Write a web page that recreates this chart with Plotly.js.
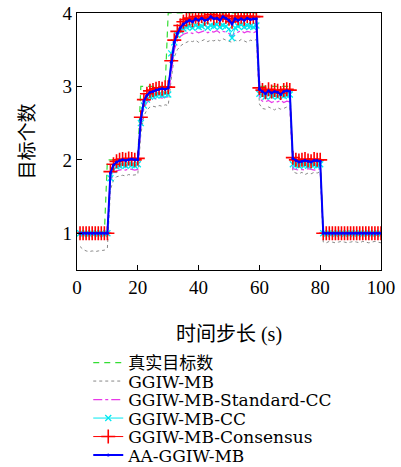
<!DOCTYPE html>
<html><head><meta charset="utf-8">
<script src="https://cdn.plot.ly/plotly-3.0.1.min.js"></script>
<style>html,body{margin:0;padding:0;background:#fff}</style>
</head><body>
<div id="chart" style="width:401px;height:467px"></div>
<script>
// time steps 1..100
const timeSteps = Array.from({length: 100}, (_, i) => i + 1);

const seriesNames = ["真实目标数", "GGIW-MB", "GGIW-MB-Standard-CC", "GGIW-MB-CC", "GGIW-MB-Consensus", "AA-GGIW-MB"];

const truthCount = [
  1,1,1,1,1,1,1,1,1,
  2,2,2,2,2,2,2,2,2,2,2,
  3,3,3,3,3,3,3,3,3,
  4,4,4,4,4,4,4,4,4,4,4,4,4,4,4,4,4,4,4,4,4,4,4,4,4,4,4,4,4,4,
  3,3,3,3,3,3,3,3,3,3,3,
  2,2,2,2,2,2,2,2,2,2,
  1,1,1,1,1,1,1,1,1,1,1,1,1,1,1,1,1,1,1,1
];

const ggiwMB = [
  0.82,0.78,0.76,0.75,0.76,0.75,0.76,0.76,0.77,0.80,
  1.60,1.72,1.77,1.78,1.79,1.78,1.80,1.79,1.80,1.80,
  2.35,2.60,2.68,2.72,2.73,2.72,2.74,2.73,2.75,2.74,
  3.10,3.40,3.50,3.55,3.58,3.60,3.62,3.61,3.63,3.60,3.62,3.64,3.61,3.63,3.62,3.64,3.62,3.65,3.63,3.62,
  3.60,3.63,3.61,3.64,3.62,3.60,3.63,3.62,3.64,
  2.76,2.70,2.69,2.72,2.70,2.68,2.71,2.69,2.70,2.72,2.71,
  1.84,1.82,1.81,1.83,1.80,1.82,1.81,1.83,1.82,1.84,
  0.88,0.87,0.89,0.88,0.87,0.88,0.89,0.88,0.87,0.88,0.89,0.88,0.87,0.89,0.88,0.87,0.88,0.89,0.88,0.87
];

const standardCC = [
  0.98,0.97,0.97,0.98,0.97,0.97,0.98,0.97,0.97,0.98,
  1.70,1.82,1.85,1.86,1.87,1.86,1.88,1.87,1.86,1.87,
  2.45,2.70,2.78,2.82,2.84,2.83,2.85,2.84,2.86,2.85,
  3.22,3.50,3.62,3.68,3.71,3.73,3.74,3.72,3.75,3.73,3.74,3.76,3.73,3.75,3.74,3.76,3.73,3.75,3.74,3.72,
  3.68,3.73,3.74,3.76,3.73,3.75,3.74,3.73,3.75,
  2.84,2.80,2.79,2.81,2.78,2.80,2.79,2.81,2.78,2.80,2.79,
  1.88,1.87,1.86,1.87,1.86,1.88,1.87,1.86,1.87,1.88,
  0.98,0.97,0.98,0.97,0.98,0.97,0.97,0.98,0.97,0.98,0.97,0.98,0.97,0.97,0.98,0.97,0.98,0.97,0.97,0.98
];

const ggiwMBCC = [
  1.00,0.99,1.00,0.99,1.00,1.00,0.99,1.00,0.99,1.00,
  1.75,1.86,1.91,1.92,1.93,1.92,1.94,1.93,1.92,1.94,
  2.50,2.74,2.82,2.86,2.87,2.88,2.89,2.88,2.90,2.89,
  3.45,3.60,3.70,3.76,3.79,3.81,3.82,3.80,3.83,3.81,3.82,3.84,3.80,3.83,3.82,3.84,3.81,3.83,3.82,3.78,
  3.66,3.80,3.82,3.84,3.81,3.83,3.82,3.81,3.83,
  2.90,2.88,2.86,2.89,2.87,2.88,2.86,2.89,2.87,2.88,2.89,
  1.94,1.93,1.92,1.94,1.93,1.92,1.94,1.93,1.92,1.94,
  1.00,0.99,1.00,1.00,0.99,1.00,1.00,0.99,1.00,1.00,0.99,1.00,1.00,0.99,1.00,1.00,0.99,1.00,1.00,0.99
];

const consensus = [
  1.00,1.00,1.00,1.00,1.00,1.00,1.00,1.00,1.00,1.00,
  1.84,1.94,1.98,2.00,2.01,2.00,2.02,2.01,2.00,2.02,
  2.58,2.82,2.90,2.94,2.95,2.97,2.98,2.97,2.99,2.99,
  3.35,3.63,3.75,3.83,3.88,3.91,3.93,3.90,3.95,3.92,3.96,3.92,3.94,3.98,3.93,3.96,3.92,3.97,3.95,3.92,
  3.88,3.96,3.93,3.95,3.92,3.96,3.94,3.95,3.95,
  2.98,2.95,2.92,2.96,2.93,2.95,2.94,2.91,2.95,2.96,2.95,
  2.03,2.00,1.99,2.00,2.01,1.99,1.98,2.01,2.00,2.00,
  1.00,1.00,1.00,1.00,1.00,1.00,1.00,1.00,1.00,1.00,1.00,1.00,1.00,1.00,1.00,1.00,1.00,1.00,1.00,1.00
];

const aaGGIWMB = [
  1.00,1.00,1.00,1.00,1.00,1.00,1.00,1.00,1.00,1.00,
  1.82,1.93,1.97,1.99,2.00,1.99,2.00,2.01,2.00,2.00,
  2.55,2.80,2.88,2.92,2.93,2.95,2.96,2.97,2.96,2.98,
  3.33,3.60,3.72,3.80,3.85,3.88,3.90,3.88,3.92,3.90,3.93,3.90,3.91,3.95,3.92,3.93,3.90,3.95,3.93,3.90,
  3.85,3.92,3.90,3.92,3.90,3.93,3.91,3.92,3.92,
  2.96,2.93,2.90,2.94,2.91,2.93,2.92,2.89,2.93,2.94,2.93,
  2.02,1.99,1.97,1.98,1.99,1.98,1.97,1.99,1.99,1.98,
  1.00,1.00,1.00,1.00,1.00,1.00,1.00,1.00,1.00,1.00,1.00,1.00,1.00,1.00,1.00,1.00,1.00,1.00,1.00,1.00
];

const xTickVals = [0, 20, 40, 60, 80, 100];
const yTickVals = [1, 2, 3, 4];
const xTitle = "时间步长 (s)";
const yTitle = "目标个数";

const serif = "'Liberation Serif', 'Noto Sans CJK SC', serif";
const legendFont = "'DejaVu Serif', 'Noto Sans CJK SC', serif";
const allSeries = [truthCount, ggiwMB, standardCC, ggiwMBCC, consensus, aaGGIWMB];
const styles = [
  {mode: 'lines', line: {color: '#33dd33', width: 1.2, dash: '6px,5px'}},
  {mode: 'lines', line: {color: '#888888', width: 1, dash: 'dot'}},
  {mode: 'lines', line: {color: '#e838e8', width: 1.2, dash: 'dashdot'}},
  {mode: 'lines+markers', line: {color: '#00e8f0', width: 1}, marker: {symbol: 'x-thin', size: 6, line: {color: '#00e8f0', width: 1.3}}},
  {mode: 'lines+markers', line: {color: '#ff0000', width: 1}, marker: {symbol: 'cross-thin', size: 10, line: {color: '#ff0000', width: 1.6}}},
  {mode: 'lines+markers', line: {color: '#0000ff', width: 2}, marker: {symbol: 'circle', size: 3, color: '#0000ff'}}
];
const legendNames = ['legend', 'legend2', 'legend3', 'legend4', 'legend5', 'legend6'];

const traces = allSeries.map((ys, i) => Object.assign({
  type: 'scatter', x: timeSteps, y: ys, name: seriesNames[i], legend: legendNames[i]
}, styles[i]));

const layout = {
  width: 401, height: 467,
  margin: {l: 77, r: 20, t: 13, b: 197, autoexpand: false},
  paper_bgcolor: '#fff', plot_bgcolor: '#fff',
  font: {family: serif, size: 19, color: '#000'},
  showlegend: true,
  xaxis: {
    range: [0, 100], tickvals: xTickVals, ticks: 'inside', ticklen: 5, tickcolor: '#000',
    showline: true, mirror: true, linecolor: '#000', linewidth: 1.2, showgrid: false, zeroline: false,
    tickfont: {family: serif, size: 19},
    title: {text: xTitle, font: {family: serif, size: 20}, standoff: 30}
  },
  yaxis: {
    range: [0.5, 4], tickvals: yTickVals, ticks: 'inside', ticklen: 5, tickcolor: '#000',
    showline: true, mirror: true, linecolor: '#000', linewidth: 1.2, showgrid: false, zeroline: false,
    tickfont: {family: serif, size: 19},
    title: {text: yTitle, font: {family: serif, size: 19}, standoff: 22}
  }
};
const legendRowsPx = [363, 381.5, 400, 418.5, 437, 455.5];
legendNames.forEach((ln, i) => {
  layout[ln] = {
    x: 0.037, xanchor: 'left', y: (270 - legendRowsPx[i]) / 257, yanchor: 'middle',
    bgcolor: 'rgba(0,0,0,0)', borderwidth: 0, font: {family: legendFont, size: 17, color: '#000'},
    itemwidth: 30
  };
});

Plotly.newPlot('chart', traces, layout, {displayModeBar: false, staticPlot: true});
</script>
</body></html>
